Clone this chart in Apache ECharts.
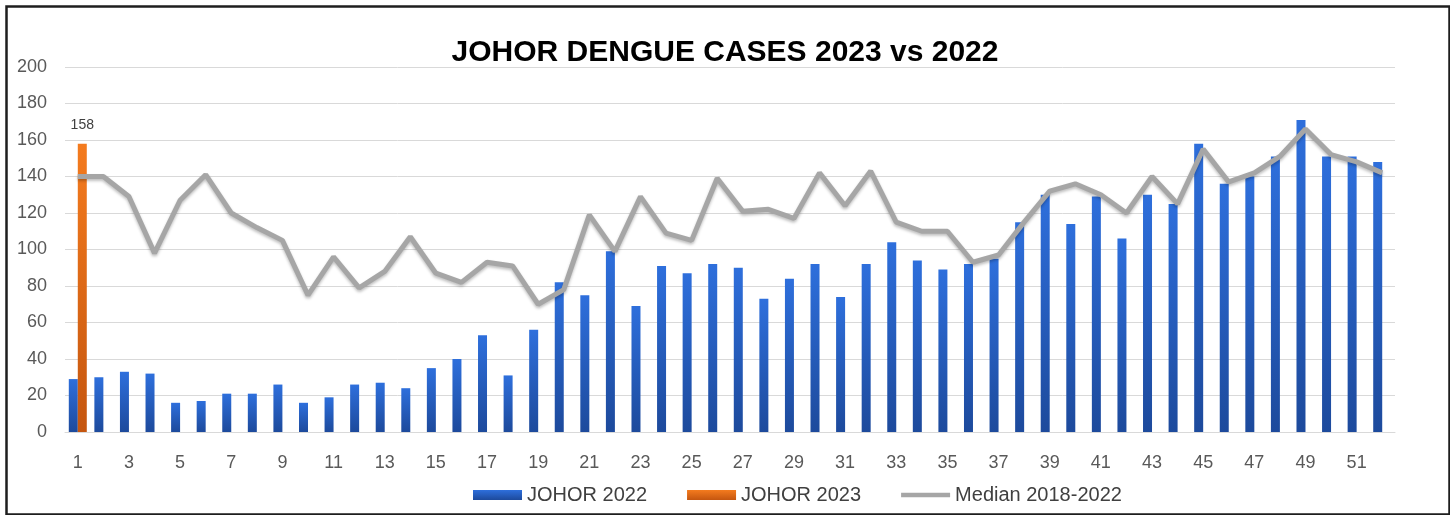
<!DOCTYPE html>
<html>
<head>
<meta charset="utf-8">
<script src="https://cdn.jsdelivr.net/npm/echarts@6/dist/echarts.min.js"></script>
<style>
html,body{margin:0;padding:0;background:#fff;}
#chart{width:1450px;height:515px;}
</style>
</head>
<body>
<div id="chart"></div>
<script>
const weeks = ['1','2','3','4','5','6','7','8','9','10','11','12','13','14','15','16','17','18','19','20','21','22','23','24','25','26','27','28','29','30','31','32','33','34','35','36','37','38','39','40','41','42','43','44','45','46','47','48','49','50','51','52'];
const johor2022 = [29,30,33,32,16,17,21,21,26,16,19,26,27,24,35,40,53,31,56,82,75,99,69,91,87,92,90,73,84,92,74,92,104,94,89,92,95,115,130,114,129,106,130,125,158,136,140,151,171,151,151,148];
const johor2023 = [158];
const median = [140,140,129,98,127,141,120,112,105,75,96,79,88,107,87,82,93,91,70,78,119,99,129,109,105,139,121,122,117,142,124,143,115,110,110,93,97,115,132,136,130,120,140,125,155,137,142,151,166,152,148,142];
const yTicks = {min: 0, max: 200, interval: 20};
const titleText = 'JOHOR DENGUE CASES 2023 vs 2022';
const seriesNames = ['JOHOR 2022', 'JOHOR 2023', 'Median 2018-2022'];

const chart = echarts.init(document.getElementById('chart'), null, {renderer: 'canvas'});
const font = '"Liberation Sans", Arial, sans-serif';
chart.setOption({
  backgroundColor: '#ffffff',
  animation: false,
  title: {
    text: titleText,
    left: 'center',
    top: 33,
    textStyle: {fontFamily: font, fontSize: 30, fontWeight: 'bold', color: '#000000'}
  },
  legend: {
    left: 468,
    top: 480,
    itemWidth: 49,
    itemHeight: 10,
    itemGap: 40,
    textStyle: {fontFamily: font, fontSize: 20, color: '#404040'},
    data: [
      {name: seriesNames[0], icon: 'rect'},
      {name: seriesNames[1], icon: 'rect'},
      {name: seriesNames[2], icon: 'path://M0,0 L53,0 L53,5 L0,5 Z', itemStyle: {color: '#a6a6a6'}}
    ]
  },
  grid: {left: 65, right: 55, top: 67, bottom: 83, containLabel: false},
  xAxis: {
    type: 'category',
    data: weeks,
    axisLine: {show: true, lineStyle: {color: '#d9d9d9', width: 1}},
    axisTick: {show: false},
    axisLabel: {interval: 1, margin: 22, fontFamily: font, fontSize: 18, color: '#595959'}
  },
  yAxis: {
    type: 'value',
    min: yTicks.min,
    max: yTicks.max,
    interval: yTicks.interval,
    axisLine: {show: false},
    axisTick: {show: false},
    axisLabel: {margin: 18, fontFamily: font, fontSize: 18, color: '#595959'},
    splitLine: {lineStyle: {color: '#d9d9d9', width: 1}}
  },
  series: [
    {
      name: seriesNames[0],
      type: 'bar',
      data: johor2022,
      barWidth: 9,
      barGap: '0%',
      itemStyle: {
        color: new echarts.graphic.LinearGradient(0, 0, 0, 1, [
          {offset: 0, color: '#2e6fdc'},
          {offset: 1, color: '#1d4a9c'}
        ])
      },
      z: 2
    },
    {
      name: seriesNames[1],
      type: 'bar',
      data: johor2023,
      barWidth: 9,
      barGap: '0%',
      itemStyle: {
        color: new echarts.graphic.LinearGradient(0, 0, 0, 1, [
          {offset: 0, color: '#f47b1e'},
          {offset: 1, color: '#c5560f'}
        ])
      },
      label: {show: true, position: 'top', distance: 12, fontFamily: font, fontSize: 14, color: '#404040'},
      z: 2
    },
    {
      name: seriesNames[2],
      type: 'line',
      data: median,
      symbol: 'none',
      lineStyle: {color: '#a6a6a6', width: 5, shadowColor: 'rgba(0,0,0,0.25)', shadowBlur: 3, shadowOffsetY: 2},
      itemStyle: {color: '#a6a6a6'},
      z: 3
    }
  ],
  graphic: [
    {
      type: 'rect',
      left: 4, top: 4,
      shape: {width: 1443, height: 508},
      style: {fill: 'none', stroke: '#1e1e1e', lineWidth: 2.5},
      silent: true
    }
  ]
});
</script>
</body>
</html>
